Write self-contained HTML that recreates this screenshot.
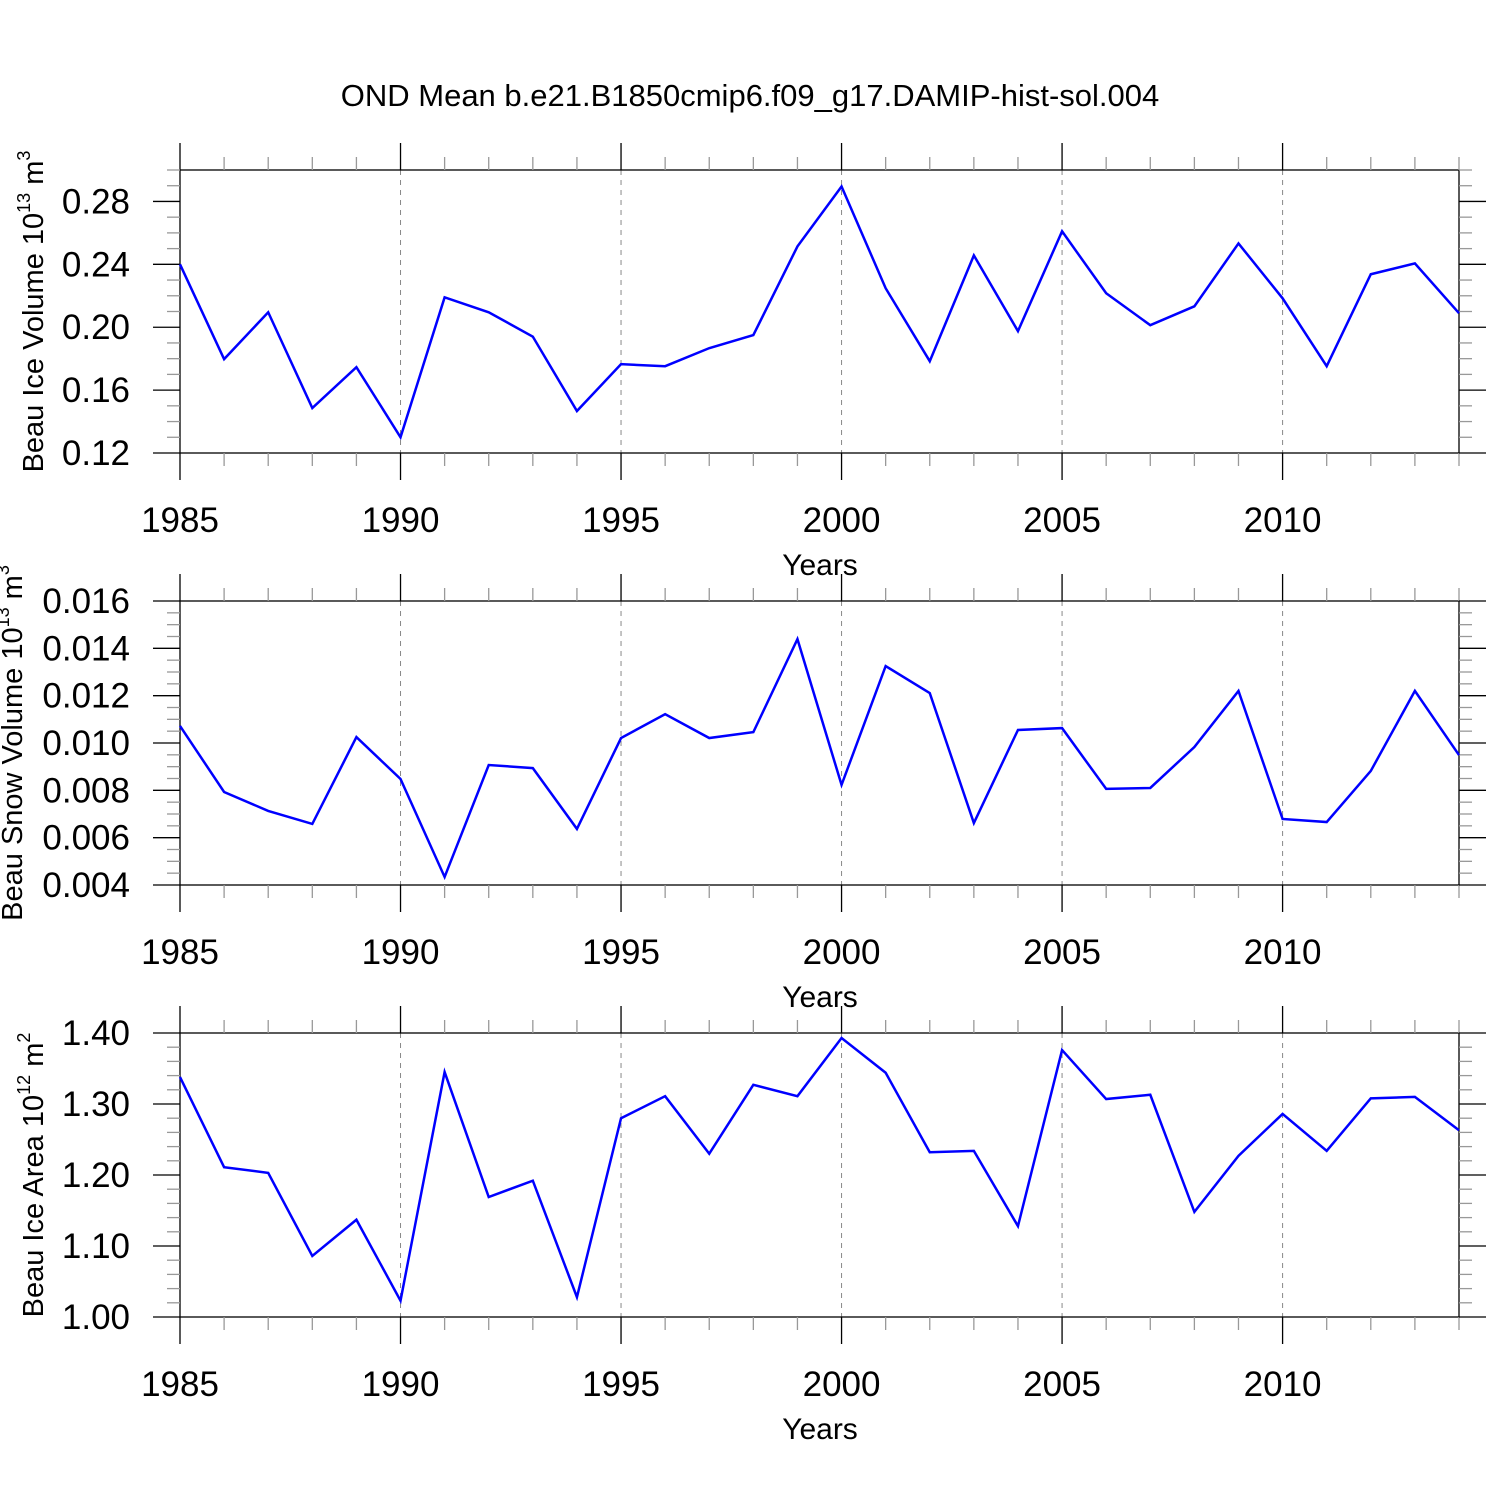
<!DOCTYPE html>
<html><head><meta charset="utf-8"><style>body{margin:0;background:#fff}svg{display:block}</style></head>
<body>
<svg id="chart" width="1500" height="1500" xmlns="http://www.w3.org/2000/svg" font-family="Liberation Sans, sans-serif">
<text x="750" y="106" font-size="31" text-anchor="middle">OND Mean b.e21.B1850cmip6.f09_g17.DAMIP-hist-sol.004</text>
</svg>
<script>
const years = [1985,1986,1987,1988,1989,1990,1991,1992,1993,1994,1995,1996,1997,1998,1999,2000,2001,2002,2003,2004,2005,2006,2007,2008,2009,2010,2011,2012,2013,2014];
const iceVolume = [0.240,0.1797,0.2095,0.1486,0.1746,0.130,0.219,0.2095,0.194,0.1467,0.1765,0.1752,0.1867,0.195,0.2514,0.2895,0.2248,0.1784,0.2457,0.1975,0.261,0.2216,0.2013,0.2133,0.2533,0.2184,0.1752,0.2337,0.2406,0.2089];
const snowVolume = [0.01072,0.00793,0.00713,0.00658,0.01025,0.00848,0.00434,0.00907,0.00894,0.00637,0.01021,0.01122,0.01021,0.01046,0.01439,0.00823,0.01325,0.01211,0.00662,0.01055,0.01063,0.00806,0.0081,0.00983,0.0122,0.00679,0.00666,0.00882,0.0122,0.00949];
const iceArea = [1.338,1.211,1.203,1.086,1.137,1.023,1.345,1.169,1.192,1.028,1.280,1.311,1.230,1.327,1.311,1.393,1.344,1.232,1.234,1.128,1.376,1.307,1.313,1.148,1.227,1.286,1.234,1.308,1.310,1.263];
const xTicks = [1985,1990,1995,2000,2005,2010];
const iceVolTicks = [0.12,0.16,0.20,0.24,0.28];
const snowTicks = [0.004,0.006,0.008,0.010,0.012,0.014,0.016];
const areaTicks = [1.00,1.10,1.20,1.30,1.40];

const NS='http://www.w3.org/2000/svg';
const svg=document.getElementById('chart');
function mk(tag,attrs,parent){const e=document.createElementNS(NS,tag);for(const k in attrs)e.setAttribute(k,attrs[k]);(parent||svg).appendChild(e);return e;}
const X0=180,X1=1459;
const xScale=y=>X0+(y-1985)/(2014-1985)*(X1-X0);

function panel(p){
  const g=mk('g',{});
  
  
  const ys=v=>p.bot-(v-p.min)/(p.max-p.min)*(p.bot-p.top);
  xTicks.slice(1).forEach(t=>{const l=mk('line',{x1:xScale(t),x2:xScale(t),y1:p.top,y2:p.bot,stroke:'#888','stroke-dasharray':'5,5','stroke-width':1},g);
    });
  const r=mk('rect',{x:X0,y:p.top,width:X1-X0,height:p.bot-p.top,fill:'none',stroke:'#000','stroke-width':1.3},g);
  
  for(let yr=1985;yr<=2014;yr++){
    const maj=xTicks.includes(yr);const L=maj?27:13;const x=xScale(yr);
    mk('line',{x1:x,x2:x,y1:p.top,y2:p.top-L,stroke:maj?'#000':'#999','stroke-width':1.3},g);
    mk('line',{x1:x,x2:x,y1:p.bot,y2:p.bot+L,stroke:maj?'#000':'#999','stroke-width':1.3},g);
  }
  xTicks.forEach(t=>{const tx=mk('text',{x:xScale(t),y:p.bot+79,'font-size':35,'text-anchor':'middle'},g);tx.textContent=t;
    });
  const xt=mk('text',{x:820,y:p.bot+122,'font-size':30,'text-anchor':'middle'},g);xt.textContent='Years';
  
  const n=Math.round((p.max-p.min)/p.minor);
  for(let i=0;i<=n;i++){
    const v=p.min+i*p.minor;const y=ys(v);
    const maj=p.ticks.some(t=>Math.abs(t-v)<p.minor/10);const L=maj?27:13;
    mk('line',{x1:X0,x2:X0-L,y1:y,y2:y,stroke:maj?'#000':'#999','stroke-width':1.3},g);
    mk('line',{x1:X1,x2:X1+L,y1:y,y2:y,stroke:maj?'#000':'#999','stroke-width':1.3},g);
  }
  p.ticks.forEach(t=>{const tx=mk('text',{x:130,y:ys(t)+12,'font-size':35,'text-anchor':'end'},g);tx.textContent=t.toFixed(p.dec);
    });
  const cy=(p.top+p.bot)/2;
  const yt=mk('text',{x:0,y:0,'font-size':29,'text-anchor':'middle',transform:`translate(${p.tx},${cy}) rotate(-90)`},g);
  
  yt.innerHTML=p.label+' 10<tspan dy="-13" font-size="18">'+p.exp+'</tspan><tspan dy="13"> m</tspan><tspan dy="-13" font-size="18">'+p.uexp+'</tspan>';
  const pts=years.map((yr,i)=>xScale(yr)+','+ys(p.data[i])).join(' ');
  const pl=mk('polyline',{points:pts,fill:'none',stroke:'#0000ff','stroke-width':2.5,'stroke-linejoin':'miter'},g);
  
}
panel({name:'ice-volume-panel',top:170,bot:453,min:0.12,max:0.30,minor:0.01,ticks:iceVolTicks,dec:2,data:iceVolume,label:'Beau Ice Volume',exp:'13',uexp:'3',tx:43});
panel({name:'snow-volume-panel',top:601,bot:885,min:0.004,max:0.016,minor:0.0005,ticks:snowTicks,dec:3,data:snowVolume,label:'Beau Snow Volume',exp:'13',uexp:'3',tx:22});
panel({name:'ice-area-panel',top:1033,bot:1317,min:1.0,max:1.4,minor:0.02,ticks:areaTicks,dec:2,data:iceArea,label:'Beau Ice Area',exp:'12',uexp:'2',tx:43});
</script>
</body></html>
